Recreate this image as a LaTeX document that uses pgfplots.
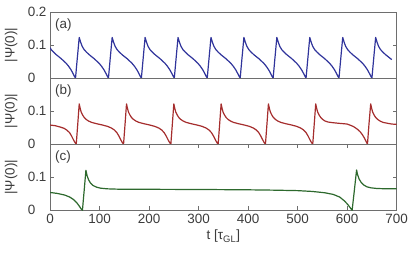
\documentclass[border=0pt]{standalone}
\usepackage{fontspec}
\setmainfont{Liberation Sans}
\usepackage{pgfplots}
\pgfplotsset{compat=1.18}
\definecolor{axgray}{RGB}{110,110,110}
\definecolor{txtgray}{RGB}{60,60,60}
\definecolor{cblue}{RGB}{48,52,155}
\definecolor{cred}{RGB}{165,45,45}
\definecolor{cgreen}{RGB}{45,105,45}
\tikzset{plab/.style={anchor=north west, inner sep=0pt, font=\fontsize{13.5}{15}\selectfont, text=txtgray, xshift=5bp, yshift=-6.5bp}}
\pgfplotsset{
  panel/.style={
    scale only axis, width=346.7bp, height=66.1bp,
    xmin=0, xmax=700, ymin=0, ymax=0.2,
    axis line style={axgray, line width=0.7bp},
    tick style={axgray, line width=0.6bp},
    major tick length=4bp,
    tick align=inside,
    yticklabel pos=left,
    ticklabel style={font=\fontsize{13.5}{15}\selectfont, text=txtgray},
    label style={font=\fontsize{13.5}{15}\selectfont, text=txtgray},
    /pgf/number format/assume math mode=true,
    ylabel={|Ψ(0)|},
    ylabel style={at={(axis description cs:-0.112,0.5)}, anchor=center},
    every axis plot/.append style={line width=1.2bp, line join=round},
  },
}
\begin{document}
\begin{tikzpicture}
\path[use as bounding box] (-50bp,-46.7bp) rectangle (365bp,210.3bp);
% panel (a)
\begin{axis}[panel, at={(0,132.2bp)}, xtick=\empty,
  ytick={0,0.1,0.2}, yticklabels={0\phantom{.0},0.1,0.2}]
\addplot[cblue] coordinates {
(0,0.092)(2.5,0.086)(7.5,0.078)(12.5,0.071)(17.5,0.065)(22.5,0.059)(27.5,0.052)(32.5,0.045)(37.5,0.036)(42.5,0.025)(46.5,0.014)(49.5,0.005)(51.5,0)
(55,0.058)(59,0.123)(62,0.108)(65,0.096)(69,0.086)(74,0.078)(79,0.071)(84,0.065)(89,0.059)(94,0.052)(99,0.045)(104,0.036)(109,0.025)(113,0.014)(116,0.005)(118,0)
(121.5,0.058)(125.5,0.123)(128.5,0.108)(131.5,0.096)(135.5,0.086)(140.5,0.078)(145.5,0.071)(150.5,0.065)(155.5,0.059)(160.5,0.052)(165.5,0.045)(170.5,0.036)(175.5,0.025)(179.5,0.014)(182.5,0.005)(184.5,0)
(188,0.058)(192,0.123)(195,0.108)(198,0.096)(202,0.086)(207,0.078)(212,0.071)(217,0.065)(222,0.059)(227,0.052)(232,0.045)(237,0.036)(242,0.025)(246,0.014)(249,0.005)(251,0)
(254.5,0.058)(258.5,0.123)(261.5,0.108)(264.5,0.096)(268.5,0.086)(273.5,0.078)(278.5,0.071)(283.5,0.065)(288.5,0.059)(293.5,0.052)(298.5,0.045)(303.5,0.036)(308.5,0.025)(312.5,0.014)(315.5,0.005)(317.5,0)
(321,0.058)(325,0.123)(328,0.108)(331,0.096)(335,0.086)(340,0.078)(345,0.071)(350,0.065)(355,0.059)(360,0.052)(365,0.045)(370,0.036)(375,0.025)(379,0.014)(382,0.005)(384,0)
(387.5,0.058)(391.5,0.123)(394.5,0.108)(397.5,0.096)(401.5,0.086)(406.5,0.078)(411.5,0.071)(416.5,0.065)(421.5,0.059)(426.5,0.052)(431.5,0.045)(436.5,0.036)(441.5,0.025)(445.5,0.014)(448.5,0.005)(450.5,0)
(454,0.058)(458,0.123)(461,0.108)(464,0.096)(468,0.086)(473,0.078)(478,0.071)(483,0.065)(488,0.059)(493,0.052)(498,0.045)(503,0.036)(508,0.025)(512,0.014)(515,0.005)(517,0)
(520.5,0.058)(524.5,0.123)(527.5,0.108)(530.5,0.096)(534.5,0.086)(539.5,0.078)(544.5,0.071)(549.5,0.065)(554.5,0.059)(559.5,0.052)(564.5,0.045)(569.5,0.036)(574.5,0.025)(578.5,0.014)(581.5,0.005)(583.5,0)
(587,0.058)(591,0.123)(594,0.108)(597,0.096)(601,0.086)(606,0.078)(611,0.071)(616,0.065)(621,0.059)(626,0.052)(631,0.045)(636,0.036)(641,0.025)(645,0.014)(648,0.005)(650,0)
(653.5,0.058)(657.5,0.123)(660.5,0.108)(663.5,0.096)(667.5,0.086)(672.5,0.078)(677.5,0.071)(682.5,0.065)(687.5,0.059)(690,0.056)
};
\node[plab] at (rel axis cs:0,1) {(a)};
\end{axis}
% panel (b)
\begin{axis}[panel, at={(0,66.1bp)}, xtick=\empty,
  ytick={0,0.1}, yticklabels={0\phantom{.0},0.1}]
\addplot[cred] coordinates {
(0,0.058)(10.5,0.056)(20.5,0.052)(28.5,0.048)(34.5,0.042)(39.5,0.035)(43.5,0.025)(47.5,0.013)(50.5,0.005)(53,0)(56,0.060)(59,0.122)
(61,0.108)(63,0.097)(66,0.088)(69,0.081)(73,0.075)(78,0.070)(84,0.066)(94,0.062)(106,0.058)(116,0.054)(124,0.049)(130,0.043)(135,0.035)(139,0.025)(143,0.013)(146,0.005)(148.5,0)(151.5,0.060)(154.5,0.122)
(156.5,0.108)(158.5,0.097)(161.5,0.088)(164.5,0.081)(168.5,0.075)(173.5,0.070)(179.5,0.066)(189.5,0.062)(201.5,0.058)(211.5,0.054)(219.5,0.049)(225.5,0.043)(230.5,0.035)(234.5,0.025)(238.5,0.013)(241.5,0.005)(244,0)(247,0.060)(250,0.122)
(252,0.108)(254,0.097)(257,0.088)(260,0.081)(264,0.075)(269,0.070)(275,0.066)(285,0.062)(297,0.058)(307,0.054)(315,0.049)(321,0.043)(326,0.035)(330,0.025)(334,0.013)(337,0.005)(339.5,0)(342.5,0.060)(345.5,0.122)
(347.5,0.108)(349.5,0.097)(352.5,0.088)(355.5,0.081)(359.5,0.075)(364.5,0.070)(370.5,0.066)(380.5,0.062)(392.5,0.058)(402.5,0.054)(410.5,0.049)(416.5,0.043)(421.5,0.035)(425.5,0.025)(429.5,0.013)(432.5,0.005)(435,0)(438,0.060)(441,0.122)
(443,0.108)(445,0.097)(448,0.088)(451,0.081)(455,0.075)(460,0.070)(466,0.066)(476,0.062)(488,0.058)(498,0.054)(506,0.049)(512,0.043)(517,0.035)(521,0.025)(525,0.013)(528,0.005)(530.5,0)(533.5,0.060)(536.5,0.122)
(538.5,0.108)(540.5,0.097)(543.5,0.088)(546.5,0.081)(550.5,0.075)(555.5,0.070)(561.5,0.067)(571.5,0.065)(585,0.063)(600,0.061)(612,0.054)(620,0.046)(626,0.038)(631,0.028)(635,0.018)(638,0.009)(641,0)(644,0.060)(647.5,0.122)
(649.5,0.108)(651.5,0.097)(654.5,0.088)(657.5,0.081)(661.5,0.075)(666.5,0.070)(672.5,0.066)(682.5,0.063)(690,0.061)(700,0.060)
};
\node[plab] at (rel axis cs:0,1) {(b)};
\end{axis}
% panel (c)
\begin{axis}[panel, at={(0,0)},
  xtick={0,100,...,700}, xtick pos=both, xticklabel pos=left,
  ytick={0,0.1}, yticklabels={0\phantom{.0},0.1},
  xlabel={t [τ\textsubscript{GL}]}]
\addplot[cgreen] coordinates {
(0,0.054)(15,0.051)(30,0.046)(40,0.040)(48,0.032)(54,0.023)(59,0.013)(62.5,0.005)(65.5,0)(69,0.060)(72.5,0.121)
(75,0.104)(78,0.092)(82,0.082)(87,0.075)(94,0.070)(102,0.067)(115,0.065)(135,0.064)(200,0.0635)(300,0.063)(400,0.062)(450,0.061)(500,0.0595)(530,0.057)(555,0.053)(572,0.048)(585,0.040)(594,0.029)(601,0.018)(606,0.008)(610,0)
(614.5,0.060)(619,0.122)(621,0.108)(624,0.095)(628,0.085)(633,0.077)(640,0.071)(648,0.068)(660,0.066)(680,0.065)(700,0.065)
};
\node[plab] at (rel axis cs:0,1) {(c)};
\end{axis}
\end{tikzpicture}
\end{document}
